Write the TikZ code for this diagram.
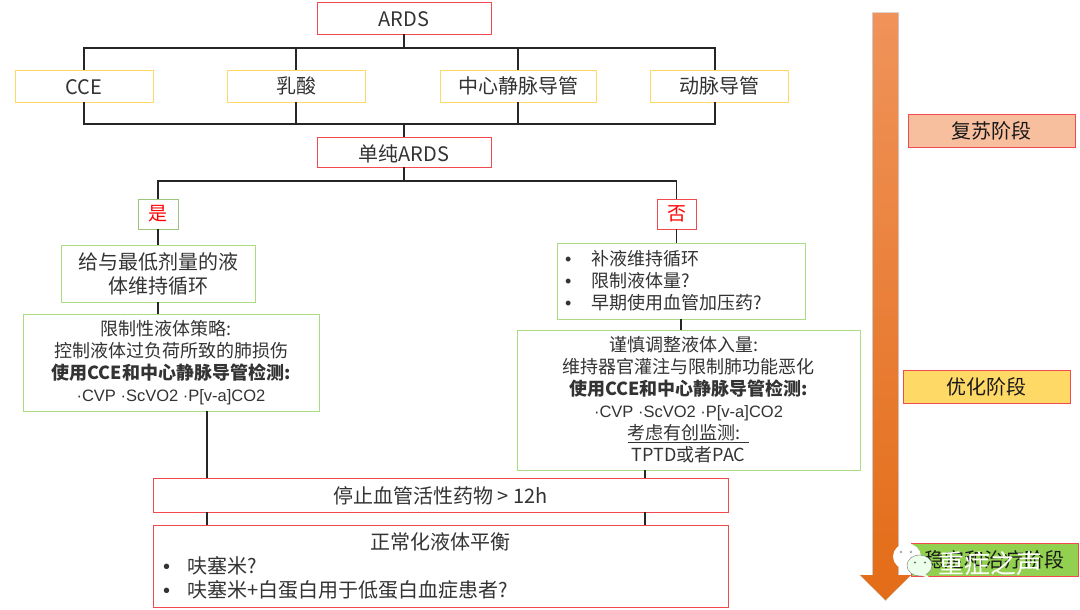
\documentclass[tikz,border=0pt]{standalone}
\usepackage{fontspec}
\setmainfont{Noto Sans CJK SC}
\newfontfamily\latinfont{Liberation Sans}
\definecolor{redline}{HTML}{F2494E}
\definecolor{yellowline}{HTML}{FFD966}
\definecolor{greenline}{HTML}{ABDC82}
\definecolor{yesline}{HTML}{9CC47F}
\definecolor{arrowtop}{HTML}{F0935A}
\definecolor{arrowmid}{HTML}{F58536}
\definecolor{arrowlow}{HTML}{E36C17}
\newcommand{\bitem}[2][26pt]{\makebox[#1][l]{\latinfont\textbullet}#2}
\newcommand{\dotline}{{\latinfont\fontsize{16.5}{22}\selectfont ·CVP ·ScVO2 ·P[v-a]CO2}}
\newcommand{\lowtext}[2]{\raisebox{0pt}[#1][0pt]{#2}}
\tikzset{
    x=1pt, y=-1pt,
    link/.style={draw=black!85, line width=1.2pt},
    textfont/.style={text=black!80, font=\fontsize{20}{24}\selectfont},
    smallfont/.style={text=black!80, font=\fontsize{18}{22}\selectfont},
    redbox/.style={draw=redline, line width=0.8pt, fill=white, inner sep=0pt, textfont},
    yellowbox/.style={draw=yellowline, line width=0.8pt, fill=white, inner sep=0pt, textfont, minimum width=138pt, minimum height=32pt},
    greenbox/.style={draw=greenline, line width=0.8pt, fill=white, inner sep=0pt, smallfont},
    answerbox/.style={line width=0.8pt, fill=white, inner sep=0pt, text=red, font=\fontsize{19}{22}\selectfont, minimum height=30pt},
    stagebox/.style={draw=redline, line width=0.8pt, inner sep=0pt, textfont, text=black!90, minimum width=167pt, minimum height=33pt},
}
\begin{document}
\begin{tikzpicture}
    \useasboundingbox (0,0) rectangle (1080,610);
    % top row
    \node[redbox, minimum width=174pt, minimum height=32pt] (ards) at (404,18) {\lowtext{16.6pt}{ARDS}};
    \node[yellowbox] (cce) at (84,86) {\lowtext{16.6pt}{CCE}};
    \node[yellowbox] (lactate) at (296,86) {乳酸};
    \node[yellowbox, minimum width=156pt] (cvc) at (518,86) {中心静脉导管};
    \node[yellowbox] (artline) at (719.5,86) {动脉导管};
    \node[redbox, minimum width=174pt, minimum height=30pt] (pure) at (404,152) {\lowtext{19pt}{单纯ARDS}};
    \coordinate (bustop) at (404,48);
    \coordinate (buslow) at (404,124);
    \coordinate (busfork) at (404,181);
    \coordinate (artdrop) at (715,86);
    \draw[link] (ards) -- (bustop);
    \draw[link] (buslow) -- (pure);
    \draw[link] (pure) -- (busfork);
    \draw[link] (cce.north) -- (cce.north |- bustop) -- (artdrop |- bustop) -- (artdrop |- artline.north);
    \draw[link] (cce.south) -- (cce.south |- buslow) -- (artdrop |- buslow) -- (artdrop |- artline.south);
    \foreach \n in {lactate,cvc} {
        \draw[link] (\n.north) -- (\n.north |- bustop);
        \draw[link] (\n.south) -- (\n.south |- buslow);
    }
    % left branch
    \node[answerbox, draw=yesline, minimum width=40pt] (yes) at (158,214) {是};
    \node[greenbox, textfont, align=center, minimum width=194pt, minimum height=57pt] (lowdose) at (158,273.5) {给与最低剂量的液\\体维持循环};
    \node[greenbox, align=center, minimum width=296pt, minimum height=97pt] (restrict) at (171,362.5) {限制性液体策略:\hspace*{10pt}\\控制液体过负荷所致的肺损伤\\\textbf{使用CCE和中心静脉导管检测:}\hspace*{14pt}\\\dotline};
    % right branch
    \node[answerbox, draw=redline, minimum width=39pt] (no) at (676.5,214) {否};
    \node[greenbox, align=left, text width=232pt, minimum width=248pt, minimum height=76pt] (fluid) at (681,281) {\bitem{补液维持循环}\\\bitem{限制液体量?}\\\bitem{早期使用血管加压药?}};
    \node[greenbox, align=center, minimum width=343pt, minimum height=140pt] (careful) at (688.5,400) {谨慎调整液体入量:\hspace*{10pt}\\维持器官灌注与限制肺功能恶化\\\textbf{使用CCE和中心静脉导管检测:}\hspace*{18pt}\\\dotline\\\underline{考虑有创监测:\ \ }\\TPTD或者PAC};
    \draw[link] (busfork) -- (yes.north |- busfork) -- (yes.north);
    \draw[link] (busfork) -- (no.north |- busfork) -- (no.north);
    \draw[link] (yes) -- (lowdose);
    \draw[link] (no) -- (no.south |- fluid.north);
    \draw[link] (fluid) -- (fluid.south |- careful.north);
    \draw[link] (lowdose.south) -- (lowdose.south |- restrict.north);
    % bottom
    \node[redbox, minimum width=575pt, minimum height=34pt] (stop) at (440.5,495) {\lowtext{17pt}{停止血管活性药物 > 12h}};
    \node[redbox, align=left, text width=555pt, minimum width=575pt, minimum height=82pt] (balance) at (440.5,566) {\makebox[555pt][c]{正常化液体平衡}\\\bitem[24pt]{呋塞米?}\\\bitem[24pt]{呋塞米+白蛋白用于低蛋白血症患者?}};
    \coordinate (leftdrop) at ([xshift=36pt]restrict.south);
    \coordinate (rightdrop) at ([xshift=-43.5pt]careful.south);
    \draw[link] (leftdrop) -- (leftdrop |- stop.north);
    \draw[link] (leftdrop |- stop.south) -- (leftdrop |- balance.north);
    \draw[link] (rightdrop) -- (rightdrop |- stop.north);
    \draw[link] (rightdrop |- stop.south) -- (rightdrop |- balance.north);
    % timeline arrow
    \fill[black!20] (872,12.5) -- (899,12.5) -- (899,575) -- (911,575) -- (885.5,601) -- (860,575) -- (872,575) -- cycle;
    \shade[top color=arrowtop, middle color=arrowmid, bottom color=arrowlow] (873,13) -- (898,13) -- (898,575) -- (911,575) -- (885.5,600) -- (860,575) -- (873,575) -- cycle;
    % stages
    \node[stagebox, fill=orange!50!red!10!arrowtop!55!white] (resus) at (991.5,130.5) {复苏阶段};
    \node[stagebox, fill=yellowline] (optim) at (986.5,386.5) {优化阶段};
    \node[stagebox, fill={rgb,255:red,146;green,208;blue,80}] (stable) at (994.5,559.5) {稳定和治疗阶段};
    % watermark
    \fill[white] (907,556.5) ellipse (14 and 13);
    \fill[white] (902,566) -- (909,568) -- (904,573) -- cycle;
    \fill[black!35] (901,552) circle (1.3) (911,552) circle (1.3);
    \fill[white!92!green, draw=black!45, line width=0.5pt] (919.5,565.5) ellipse (12.5 and 10.5);
    \fill[white!92!green] (924,573) -- (930,578) -- (919,575) -- cycle;
    \fill[black!55] (915,562.5) circle (1.2) (925,562.5) circle (1.2);
    \node[text=white, font=\fontsize{26}{28}\selectfont] (mark) at (990.5,563.5) {重症之声};
\end{tikzpicture}
\end{document}
